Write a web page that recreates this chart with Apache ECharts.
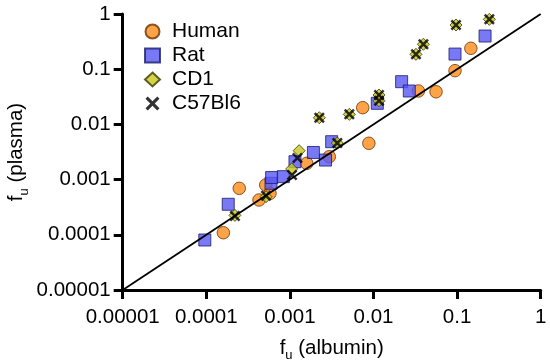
<!DOCTYPE html>
<html>
<head>
<meta charset="utf-8">
<script src="https://cdn.jsdelivr.net/npm/echarts@6/dist/echarts.min.js"></script>
<style>html,body{margin:0;padding:0;background:#fff;}#c{width:550px;height:363px;}</style>
</head>
<body>
<div id="c"></div>
<script>
// ---- data (fu albumin, fu plasma) ----
const humanX = [1.6e-4, 2.48e-4, 4.27e-4, 5.14e-4, 5.78e-4, 1.59e-3, 2.96e-3, 8.8e-3, 7.43e-3, 0.0344, 0.056, 0.0944, 0.146];
const humanY = [1.09e-4, 6.95e-4, 4.27e-4, 7.98e-4, 5.65e-4, 1.97e-3, 2.6e-3, 4.55e-3, 0.0201, 0.0403, 0.039, 0.094, 0.239];
const ratX = [9.6e-5, 1.83e-4, 5.94e-4, 6.05e-4, 8.34e-4, 1.15e-3, 1.91e-3, 2.67e-3, 3.16e-3, 0.0111, 0.0217, 0.0268, 0.0944, 0.216];
const ratY = [8.05e-5, 3.57e-4, 8.57e-4, 1.09e-3, 1.13e-3, 2.11e-3, 3.1e-3, 2.26e-3, 4.86e-3, 0.0241, 0.0594, 0.0403, 0.188, 0.399];
const cd1X = [2.2e-4, 5.18e-4, 1.05e-3, 1.29e-3, 3.69e-3, 2.25e-3, 5.14e-3, 0.01164, 0.01164, 0.0322, 0.0395, 0.097, 0.243];
const cd1Y = [2.25e-4, 4.9e-4, 1.56e-3, 3.34e-3, 4.6e-3, 0.0132, 0.0152, 0.0341, 0.0268, 0.186, 0.283, 0.632, 0.80];
const c57X = [2.2e-4, 5.18e-4, 1.06e-3, 1.23e-3, 3.69e-3, 2.25e-3, 5.14e-3, 0.01164, 0.01164, 0.0322, 0.0395, 0.097, 0.243];
const c57Y = [2.2e-4, 5.1e-4, 1.21e-3, 2.46e-3, 4.6e-3, 0.0132, 0.0152, 0.0341, 0.0268, 0.186, 0.283, 0.632, 0.80];
const identityLine = [[1e-5, 1e-5], [1, 1]];
const tickLabels = ['0.00001', '0.0001', '0.001', '0.01', '0.1', '1'];
const seriesNames = ['Human', 'Rat', 'CD1', 'C57Bl6'];

const zip = (xs, ys) => xs.map((x, i) => [x, ys[i]]);
const FONT = 'Liberation Sans, Arial, sans-serif';
const xSym = 'path://M0,1.6L1.6,0L5,3.4L8.4,0L10,1.6L6.6,5L10,8.4L8.4,10L5,6.6L1.6,10L0,8.4L3.4,5Z';
const fmt = v => tickLabels[Math.round(Math.log10(v)) + 5];

const axisCommon = {
  type: 'log', logBase: 10, min: 1e-5, max: 1,
  axisLine: { show: true, lineStyle: { color: '#000', width: 3 } },
  axisTick: { show: true, length: 9, lineStyle: { color: '#000', width: 3 } },
  splitLine: { show: false },
  minorTick: { show: false },
  axisLabel: { color: '#000', fontSize: 20.5, fontFamily: FONT, formatter: fmt },
  nameLocation: 'middle',
  nameMoveOverlap: false,
  nameTextStyle: {
    color: '#000', fontFamily: FONT,
    rich: {
      a: { fontSize: 20.5, fontFamily: FONT, color: '#000', lineHeight: 24 },
      b: { fontSize: 13, fontFamily: FONT, color: '#000', lineHeight: 24, verticalAlign: 'bottom', padding: [0, 0, -2, 0] }
    }
  }
};

const chart = echarts.init(document.getElementById('c'), null, { renderer: 'canvas' });
chart.setOption({
  animation: false,
  backgroundColor: '#fff',
  grid: { left: 122.7, right: 9.3, top: 14, bottom: 73, containLabel: false, outerBoundsMode: 'none' },
  xAxis: Object.assign({}, axisCommon, {
    name: '{a|f}{b|u}{a| (albumin)}', nameGap: 46,
    axisLabel: Object.assign({}, axisCommon.axisLabel, { margin: 17 })
  }),
  yAxis: Object.assign({}, axisCommon, {
    name: '{a|f}{b|u}{a| (plasma)}', nameGap: 94, nameRotate: 90,
    axisLabel: Object.assign({}, axisCommon.axisLabel, { margin: 12 })
  }),
  legend: {
    data: seriesNames, orient: 'vertical', left: 139, top: 16,
    itemWidth: 15, itemHeight: 14, itemGap: 3,
    textStyle: { fontSize: 21, fontFamily: FONT, color: '#000', padding: [0, 0, 0, 7], lineHeight: 21 }
  },
  series: [
    { name: 'Human', type: 'scatter', data: zip(humanX, humanY), symbol: 'circle', symbolSize: 12.5,
      itemStyle: { color: '#FF8C1A', borderColor: '#6b3300', borderWidth: 1 }, z: 2 },
    { name: 'Rat', type: 'scatter', data: zip(ratX, ratY), symbol: 'rect', symbolSize: 12,
      itemStyle: { color: '#5858F4', borderColor: '#1a1a70', borderWidth: 1 }, z: 3 },
    { name: 'CD1', type: 'scatter', data: zip(cd1X, cd1Y), symbol: 'diamond', symbolSize: 12,
      itemStyle: { color: '#C8C81E', borderColor: '#3a3a00', borderWidth: 1 }, z: 4 },
    { name: 'C57Bl6', type: 'scatter', data: zip(c57X, c57Y), symbol: xSym, symbolSize: 11,
      itemStyle: { color: '#000', borderWidth: 0 }, z: 5 },
    { name: 'identity', type: 'line', data: identityLine, symbol: 'none', silent: true,
      lineStyle: { color: '#000', width: 1.8 }, z: 6 }
  ]
});
</script>
</body>
</html>
